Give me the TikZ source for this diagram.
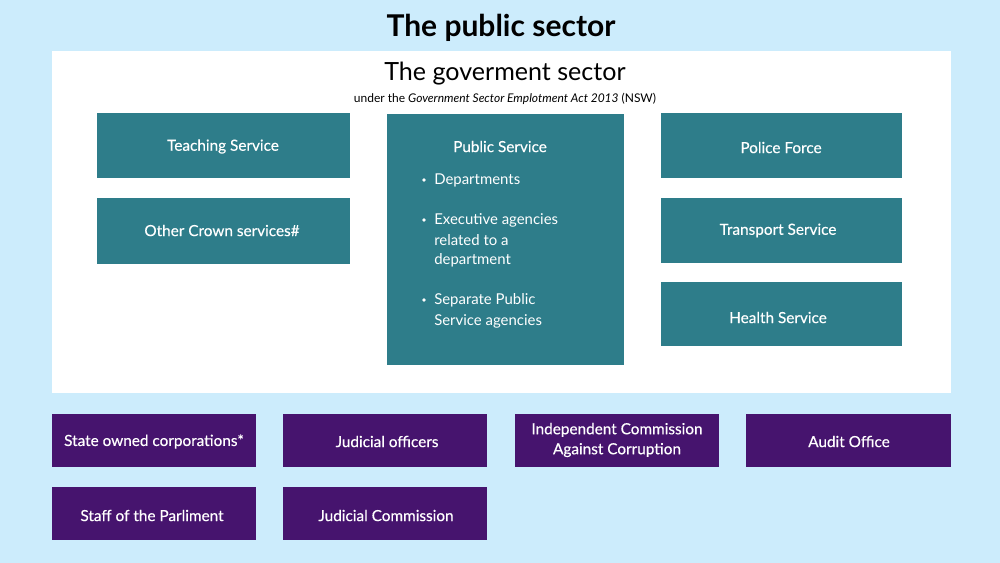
\documentclass[tikz,border=0pt]{standalone}
\usepackage{fontspec}
\setmainfont{Lato}
\newfontfamily\medfont[FakeBold=0.35]{Lato}
\definecolor{bgblue}{RGB}{204,236,252}
\definecolor{teal}{RGB}{46,125,138}
\definecolor{purp}{RGB}{70,20,110}
\begin{document}
\begin{tikzpicture}[x=0.75pt,y=-0.75pt,
  lbl/.style={inner sep=0pt},
  boxlbl/.style={lbl,text=white,font=\medfont\fontsize{11.5}{15}\selectfont,align=center},
  bullettxt/.style={lbl,text=white,font=\fontsize{11.2}{15}\selectfont,anchor=west}]
\fill[bgblue] (0,0) rectangle (1000,563);
\useasboundingbox (0,0) rectangle (1000,563);
\fill[white] (52,51) rectangle (951,393);
\node[lbl,font=\bfseries\fontsize{22.5}{26}\selectfont] (title) at (501,28) {The public sector};
\node[lbl,font=\fontsize{18.8}{22}\selectfont] (gov) at (505,73.5) {The goverment sector};
\node[lbl,font=\fontsize{9}{11}\selectfont] (sub) at (505,98.5) {under the \textit{Government Sector Emplotment Act 2013} (NSW)};
% teal boxes
\fill[teal] (97,113) rectangle (350,178);
\node[boxlbl] (teach) at (223,146.5) {Teaching Service};
\fill[teal] (97,198) rectangle (350,264);
\node[boxlbl] (crown) at (222,230.5) {Other Crown services\#};
\fill[teal] (387,114) rectangle (624,365);
\node[boxlbl] (ps) at (500,146.5) {Public Service};
\node[bullettxt] (b1) at (434,180) {Departments};
\node[bullettxt] (b2) at (434,220) {Executive agencies};
\node[bullettxt] (b2b) at (434,240) {related to a};
\node[bullettxt] (b2c) at (434,260) {department};
\node[bullettxt] (b3) at (434,300) {Separate Public};
\node[bullettxt] (b3b) at (434,321) {Service agencies};
\foreach \yy in {180,220,300} \fill[white] (424,\yy) circle (1.8);
\fill[teal] (661,113) rectangle (902,178);
\node[boxlbl] (police) at (781,147.5) {Police Force};
\fill[teal] (661,198) rectangle (902,263);
\node[boxlbl] (trans) at (778,230.5) {Transport Service};
\fill[teal] (661,282) rectangle (902,346);
\node[boxlbl] (health) at (778,317.5) {Health Service};
% purple boxes
\fill[purp] (52,414) rectangle (256,467);
\node[boxlbl] (soc) at (154,441.5) {State owned corporations*};
\fill[purp] (283,414) rectangle (487,467);
\node[boxlbl] (jo) at (387,441.5) {Judicial officers};
\fill[purp] (515,414) rectangle (719,467);
\node[boxlbl] (icac) at (617,440) {Independent Commission\\Against Corruption};
\fill[purp] (746,414) rectangle (951,467);
\node[boxlbl] (audit) at (849,441.5) {Audit Office};
\fill[purp] (52,487) rectangle (256,540);
\node[boxlbl] (staff) at (152,515.5) {Staff of the Parliment};
\fill[purp] (283,487) rectangle (487,540);
\node[boxlbl] (jc) at (386,515.5) {Judicial Commission};
\end{tikzpicture}
\end{document}
